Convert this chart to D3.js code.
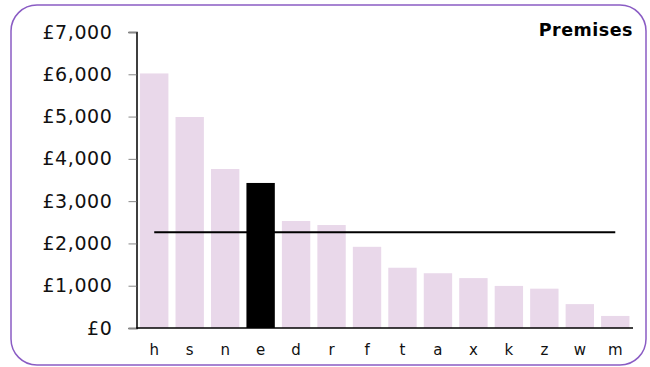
<!DOCTYPE html>
<html lang="en">
<head>
    <meta charset="utf-8">
    <title>Premises</title>
    <style>
        body { margin: 0; background: #fff; }
        .axis { font-family: Verdana, "DejaVu Sans", sans-serif; }
        .axis path.domain { stroke: #000; stroke-width: 1.5px; }
        .y.axis .tick line { stroke: #888; }
    </style>
</head>
<body>
    <script src="https://cdn.jsdelivr.net/npm/d3@7"></script>
    <script>
        // data
        const categories = ['h', 's', 'n', 'e', 'd', 'r', 'f', 't', 'a', 'x', 'k', 'z', 'w', 'm'];
        const values = [6020, 4990, 3760, 3430, 2530, 2435, 1920, 1425, 1295, 1180, 995, 930, 565, 285];
        const highlighted = ['e'];
        const averageValue = 2265;
        const yTicks = [0, 1000, 2000, 3000, 4000, 5000, 6000, 7000];
        const chartTitle = 'Premises';

        const width = 650, height = 367;
        const plot = { left: 136.5, right: 633, top: 32, bottom: 328 };

        const svg = d3.select('body')
            .append('svg')
                .attr('width', width)
                .attr('height', height);

        // rounded frame
        svg.append('rect')
            .attr('x', 11)
            .attr('y', 5)
            .attr('width', 635)
            .attr('height', 360)
            .attr('rx', 26)
            .attr('ry', 26)
            .attr('fill', 'none')
            .attr('stroke', '#8a5cc4')
            .attr('stroke-width', 1.5);

        const x = d3.scaleBand()
            .domain(categories)
            .range([plot.left, plot.right])
            .paddingInner(0.2)
            .paddingOuter(0.1);

        const y = d3.scaleLinear()
            .domain([0, 7000])
            .range([plot.bottom, plot.top]);

        const data = categories.map((c, i) => ({ cat: c, value: values[i] }));

        // bars
        svg.append('g')
            .selectAll('rect')
            .data(data)
            .join('rect')
                .attr('x', d => x(d.cat))
                .attr('y', d => y(d.value))
                .attr('width', x.bandwidth())
                .attr('height', d => y(0) - y(d.value))
                .attr('fill', d => highlighted.includes(d.cat) ? '#000' : '#e9d8ea');

        // average line
        svg.append('line')
            .attr('x1', x(categories[0]) + x.bandwidth() / 2)
            .attr('x2', x(categories[categories.length - 1]) + x.bandwidth() / 2)
            .attr('y1', y(averageValue))
            .attr('y2', y(averageValue))
            .attr('stroke', '#000')
            .attr('stroke-width', 2);

        // y axis
        const yAxis = d3.axisLeft(y)
            .tickValues(yTicks)
            .tickSize(8)
            .tickPadding(16)
            .tickFormat(d => '£' + d3.format(',')(d));
        svg.append('g')
            .attr('class', 'y axis')
            .attr('transform', `translate(${plot.left}, 0)`)
            .call(yAxis)
            .call(g => g.selectAll('text')
                .attr('font-size', 19)
                .attr('letter-spacing', 0.6)
                .attr('fill', '#111'));

        // x axis
        const xAxis = d3.axisBottom(x).tickSize(0).tickPadding(16);
        svg.append('g')
            .attr('class', 'x axis')
            .attr('transform', `translate(0, ${plot.bottom})`)
            .call(xAxis)
            .call(g => g.select('.domain').attr('d', `M${plot.left},0H${plot.right}`))
            .call(g => g.selectAll('text')
                .attr('font-size', 15)
                .attr('fill', '#111'));

        // title
        svg.append('text')
            .attr('x', 633)
            .attr('y', 36)
            .attr('text-anchor', 'end')
            .attr('font-family', 'Verdana, "DejaVu Sans", sans-serif')
            .attr('font-weight', 'bold')
            .attr('font-size', 17.5)
            .attr('letter-spacing', 0.5)
            .text(chartTitle);
    </script>
</body>
</html>
